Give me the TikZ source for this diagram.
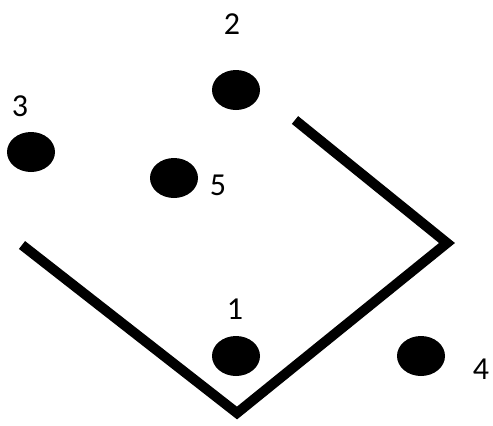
\documentclass[tikz,border=0pt]{standalone}
\usepackage{fontspec}
\setmainfont{Carlito}
\usetikzlibrary{shapes.geometric}
\begin{document}
\begin{tikzpicture}[x=1pt,y=-1pt,
  dot/.style={ellipse,fill=black,minimum width=48pt,minimum height=40pt,inner sep=0pt},
  lbl/.style={font=\fontsize{32}{32}\selectfont,inner sep=0pt,anchor=center},
  wall/.style={line width=10pt,miter limit=10,line join=miter,line cap=butt}]
\useasboundingbox (0,0) rectangle (493,426);
\node[dot] (d2) at (236,90) {};
\node[dot] (d3) at (31,152) {};
\node[dot] (d5) at (174,178) {};
\node[dot] (d1) at (236,356) {};
\node[dot] (d4) at (421,356) {};
\node[lbl] (l2) at (232,24) {2};
\node[lbl] (l3) at (20,106) {3};
\node[lbl] (l5) at (218,185) {5};
\node[lbl] (l1) at (235,309) {1};
\node[lbl] (l4) at (481,369) {4};
\coordinate (a) at (22,245);
\coordinate (b) at (237,413);
\coordinate (c) at (447,243);
\coordinate (e) at (295,120);
\draw[wall] (a) -- (b) -- (c) -- (e);
\end{tikzpicture}
\end{document}
